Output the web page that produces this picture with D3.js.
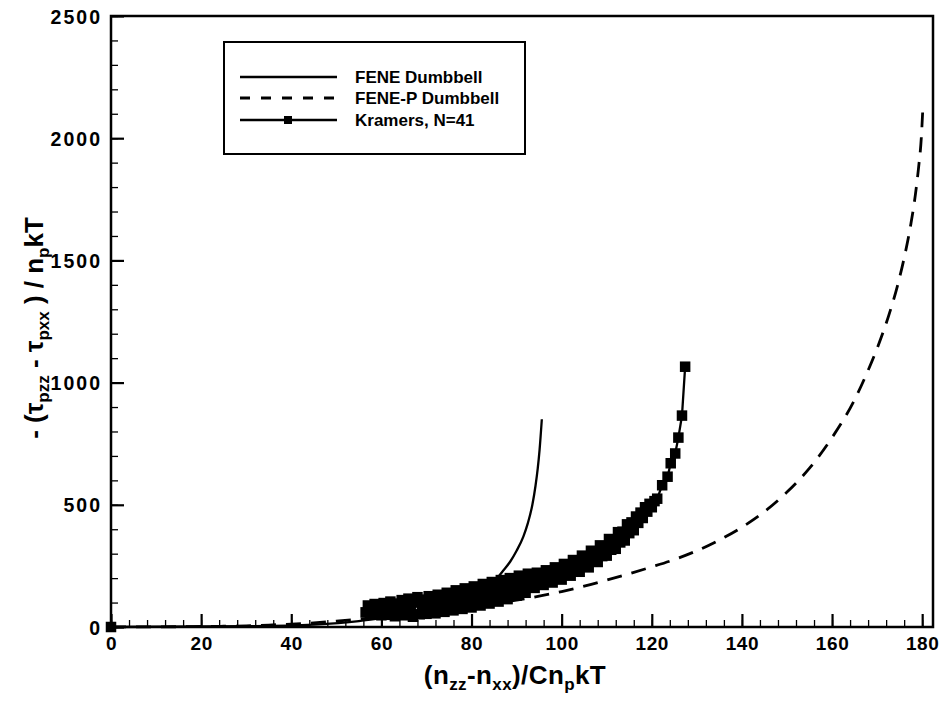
<!DOCTYPE html>
<html><head><meta charset="utf-8">
<script src="https://cdn.jsdelivr.net/npm/d3@7"></script>
<style>
body{margin:0;background:#fff;}
text{font-family:"Liberation Sans",Arial,Helvetica,sans-serif;font-weight:bold;fill:#000;}
</style></head>
<body><svg id="c" width="944" height="701"></svg>
<script>
// ---------- data ----------
const xTicks = [0,20,40,60,80,100,120,140,160,180];
const yTicks = [0,500,1000,1500,2000,2500];
const legendLabels = ["FENE Dumbbell","FENE-P Dumbbell","Kramers, N=41"];

const feneX = [0,30,45,55,60,70,78,82,84,85.6,87,88.6,90,91.5,92.5,93.5,94.2,94.7,95.1,95.6];
const feneY = [0,3,10,24,36,62,100,135,165,198,230,268,312,370,425,500,578,650,725,850];

const fenepX = [0,15,20,25,30,35,40,45,50,55,60,65,70,75,80,85,90,95,100,105,110,115,120,125,130,135,140,145,150,155,160,165,168,170,172.5,174.5,176,177.5,178.5,179.2,179.8,180.1];
const fenepY = [0,1,2,3,5,8,12,17,24,32,42,52,63,75,87,98,110,126,145,167,192,218,246,276,312,356,408,472,552,650,775,930,1050,1140,1270,1395,1510,1650,1770,1880,2000,2105];

const kramersStartX = [0];
const kramersStartY = [0];
const kramersX = [56.5,57,57.5,58,58.5,59,59.5,60,60.5,61,61.5,62,62.5,63,63.5,64,64.5,65,65.5,66,66.5,67,67.5,68,68.5,69,69.5,70,70.5,71,71.5,72,72.5,73,73.5,74,74.5,75,75.5,76,76.5,77,77.5,78,78.5,79,79.5,80,80.5,81,81.5,82,82.5,83,83.5,84,84.5,85,85.5,86,86.5,87,87.5,88,88.5,89,89.5,90,90.5,91,91.5,92,92.5,93,93.5,94,94.5,95,95.5,96,96.5,97,97.5,98,98.5,99,99.5,100,100.5,101,101.5,102,102.5,103,103.5,104,104.5,105,105.5,106,106.5,107,107.5,108,108.5,109,109.5,110,110.5,111,111.5,112,112.5,113,113.5,114,114.5,115,115.5,116,116.5,117,117.5,118,118.5,119,119.5,120,120.6,121.2,122.3,123.5,124.2,125.2,125.9,126.7,127.4];
const kramersY = [60,88,70,50,94,66,82,48,98,72,50,104,78,44,96,68,110,48,90,116,70,42,100,122,52,84,112,54,126,80,100,56,132,88,110,62,140,96,120,68,150,100,126,74,158,106,134,80,166,112,142,88,176,120,152,96,184,130,162,104,192,140,170,114,200,148,180,128,210,158,190,140,218,168,200,160,222,178,210,172,232,188,222,182,244,200,236,194,258,214,252,210,274,230,268,226,292,248,286,244,312,268,306,266,334,290,330,292,360,316,356,320,388,346,390,354,420,384,428,396,452,426,468,446,490,472,504,490,515,525,580,615,670,710,775,865,1065];

// ---------- layout ----------
const svg = d3.select("#c");
const L = 111, R = 933, T = 16, B = 627;
const x = d3.scaleLinear().domain([0, 182.4]).range([L, R]);
const y = d3.scaleLinear().domain([0, 2500]).range([B, T]);

// minor ticks
const gxm = svg.append("g").attr("transform",`translate(0,${B})`)
  .call(d3.axisBottom(x).tickValues(d3.range(0,181,4)).tickSize(-7).tickFormat(""));
gxm.select(".domain").remove();
gxm.selectAll("line").attr("stroke","#000").attr("stroke-width",1.3);
const gym = svg.append("g").attr("transform",`translate(${L},0)`)
  .call(d3.axisLeft(y).tickValues(d3.range(0,2501,100)).tickSize(-7).tickFormat(""));
gym.select(".domain").remove();
gym.selectAll("line").attr("stroke","#000").attr("stroke-width",1.3);

// major ticks + labels
const gx = svg.append("g").attr("transform",`translate(0,${B})`)
  .call(d3.axisBottom(x).tickValues(xTicks).tickSize(-13).tickPadding(10).tickFormat(d3.format("d")));
gx.select(".domain").remove();
gx.selectAll("line").attr("stroke","#000").attr("stroke-width",2.2);
gx.selectAll("text").attr("font-size","19px").attr("font-family","Liberation Sans, Arial, sans-serif")
  .attr("font-weight","bold").attr("fill","#000").attr("letter-spacing","0.6px");

const gy = svg.append("g").attr("transform",`translate(${L},0)`)
  .call(d3.axisLeft(y).tickValues(yTicks).tickSize(-13).tickPadding(9).tickFormat(d3.format("d")));
gy.select(".domain").remove();
gy.selectAll("line").attr("stroke","#000").attr("stroke-width",2.2);
gy.selectAll("text").attr("font-size","19.5px").attr("font-family","Liberation Sans, Arial, sans-serif")
  .attr("font-weight","bold").attr("fill","#000").attr("letter-spacing","2px").attr("dy","0.36em");

// frame
svg.append("rect").attr("x",L).attr("y",T).attr("width",R-L).attr("height",B-T)
  .attr("fill","none").attr("stroke","#000").attr("stroke-width",2.5);

// curves
const line = d3.line().x(d=>x(d[0])).y(d=>y(d[1])).curve(d3.curveMonotoneX);
const zip = (a,b)=>a.map((v,i)=>[v,b[i]]);

svg.append("path").datum(zip(fenepX,fenepY)).attr("d",line)
  .attr("fill","none").attr("stroke","#000").attr("stroke-width",2.8).attr("stroke-dasharray","15,10");
svg.append("path").datum(zip(feneX,feneY)).attr("d",line)
  .attr("fill","none").attr("stroke","#000").attr("stroke-width",2.3);

const kl = d3.line().x(d=>x(d[0])).y(d=>y(d[1]));
const kdata = zip(kramersX,kramersY);
svg.append("path").datum(kdata).attr("d",kl)
  .attr("fill","none").attr("stroke","#000").attr("stroke-width",2.3);
const ms = 10.5;
svg.append("g").selectAll("rect").data(kdata.concat(zip(kramersStartX,kramersStartY))).join("rect")
  .attr("x",d=>x(d[0])-ms/2).attr("y",d=>y(d[1])-ms/2).attr("width",ms).attr("height",ms).attr("fill","#000");

// legend
const lg = svg.append("g");
lg.append("rect").attr("x",224).attr("y",42).attr("width",301).attr("height",112)
  .attr("fill","#fff").attr("stroke","#000").attr("stroke-width",2);
const ly = [77,98,120];
legendLabels.forEach((t,i)=>{
  const l = lg.append("line").attr("x1",240).attr("x2",337).attr("y1",ly[i]).attr("y2",ly[i])
    .attr("stroke","#000").attr("stroke-width",i===1?2.8:2.3);
  if(i===1) l.attr("stroke-dasharray","10,11");
  if(i===2) lg.append("rect").attr("x",284).attr("y",ly[i]-4).attr("width",8).attr("height",8).attr("fill","#000");
  lg.append("text").attr("x",355).attr("y",ly[i]).attr("dy","0.36em").attr("font-size","17px").text(t);
});

// axis titles
const xt = svg.append("text").attr("x",515).attr("y",684).attr("text-anchor","middle")
  .attr("font-size","26px").attr("letter-spacing","0.4px");
xt.append("tspan").text("(n");
xt.append("tspan").attr("font-size","17px").attr("dy","6").text("zz");
xt.append("tspan").attr("dy","-6").text("-n");
xt.append("tspan").attr("font-size","17px").attr("dy","6").text("xx");
xt.append("tspan").attr("dy","-6").text(")/Cn");
xt.append("tspan").attr("font-size","17px").attr("dy","6").text("p");
xt.append("tspan").attr("dy","-6").text("kT");

const yt = svg.append("text").attr("transform","translate(43,328) rotate(-90)").attr("text-anchor","middle")
  .attr("font-size","26px");
yt.append("tspan").text("- (τ");
yt.append("tspan").attr("font-size","17px").attr("dy","6").text("pzz");
yt.append("tspan").attr("dy","-6").text(" - τ");
yt.append("tspan").attr("font-size","17px").attr("dy","6").text("pxx");
yt.append("tspan").attr("dy","-6").text(" ) / n");
yt.append("tspan").attr("font-size","17px").attr("dy","6").text("p");
yt.append("tspan").attr("dy","-6").text("kT");
</script></body></html>
